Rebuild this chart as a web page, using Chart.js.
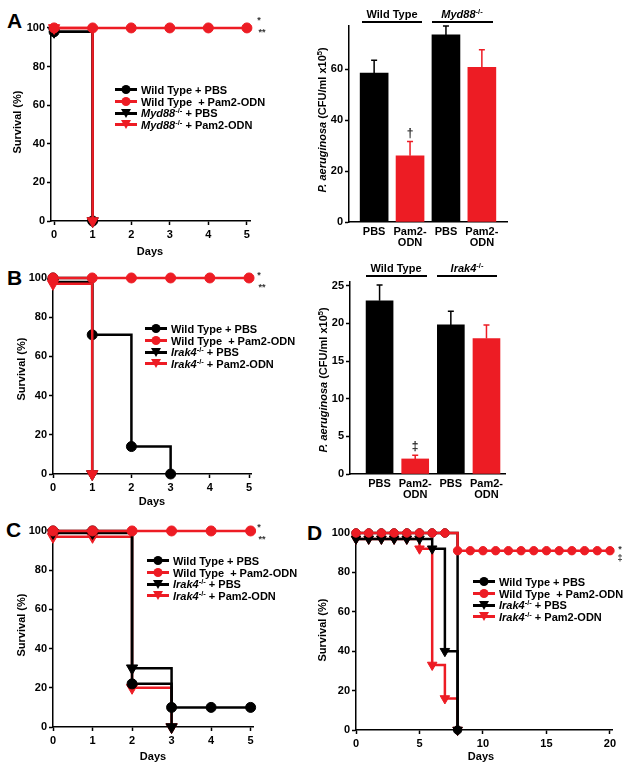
<!DOCTYPE html>
<html>
<head>
<meta charset="utf-8">
<script src="https://cdn.jsdelivr.net/npm/chart.js@4.4.1/dist/chart.umd.min.js"></script>
<style>
body{margin:0;background:#fff;font-family:Arial,"Liberation Sans",sans-serif;font-weight:bold;color:#000}
#fig{position:relative;width:630px;height:768px;overflow:hidden}
.box{position:absolute}
.c{position:absolute;transform:translate(-50%,-50%);white-space:nowrap;font-size:11px;line-height:1}
.vt{position:absolute;transform:translate(-50%,-50%) rotate(-90deg);white-space:nowrap;font-size:11px;line-height:1}
.letter{position:absolute;font-size:21px;line-height:1}
.star{position:absolute;transform:translate(-50%,-50%);font-size:9px;line-height:1;color:#333}
.leg{position:absolute;font-size:11px}
.leg div{display:flex;align-items:center;height:11.7px;white-space:nowrap}
.leg svg{margin-right:4px;flex:none}
.grpline{position:absolute;height:0;border-top:2px solid #000}
sup{font-size:7.5px;vertical-align:0;position:relative;top:-4px;line-height:0}
</style>
</head>
<body>
<div id="fig">
  <!-- パネル文字 -->
  <div class="letter" style="left:7px;top:10px">A</div>
  <div class="letter" style="left:7px;top:267px">B</div>
  <div class="letter" style="left:6px;top:519px">C</div>
  <div class="letter" style="left:307px;top:522px">D</div>

  <!-- グラフ本体 -->
  <div class="box" style="left:11px;top:16px"><canvas id="a1" width="249" height="229"></canvas></div>
  <div class="box" style="left:309px;top:16px"><canvas id="a2" width="203" height="236"></canvas></div>
  <div class="box" style="left:13px;top:266px"><canvas id="b1" width="248" height="232"></canvas></div>
  <div class="box" style="left:310px;top:272px"><canvas id="b2" width="200" height="232"></canvas></div>
  <div class="box" style="left:13px;top:519px"><canvas id="c1" width="250" height="232"></canvas></div>
  <div class="box" style="left:316px;top:521px"><canvas id="d1" width="306" height="233"></canvas></div>

  <!-- 軸タイトル -->
  <div class="vt" style="left:17px;top:122px">Survival (%)</div>
  <div class="c" style="left:150px;top:251px">Days</div>
  <div class="vt" style="left:21px;top:369px">Survival (%)</div>
  <div class="c" style="left:152px;top:501px">Days</div>
  <div class="vt" style="left:21px;top:625px">Survival (%)</div>
  <div class="c" style="left:153px;top:756px">Days</div>
  <div class="vt" style="left:322px;top:630px">Survival (%)</div>
  <div class="c" style="left:481px;top:756px">Days</div>
  <div class="vt" style="left:322px;top:120px"><i>P. aeruginosa</i> (CFU/ml x10<sup>5</sup>)</div>
  <div class="vt" style="left:323px;top:380px"><i>P. aeruginosa</i> (CFU/ml x10<sup>5</sup>)</div>

  <!-- 群ラベル -->
  <div class="c" style="left:392px;top:14px">Wild Type</div>
  <div class="grpline" style="left:362px;top:21px;width:60px"></div>
  <div class="c" style="left:462px;top:14px"><i>Myd88</i><sup>-/-</sup></div>
  <div class="grpline" style="left:432px;top:21px;width:61px"></div>
  <div class="c" style="left:396px;top:268px">Wild Type</div>
  <div class="grpline" style="left:366px;top:275px;width:61px"></div>
  <div class="c" style="left:467px;top:268px"><i>Irak4</i><sup>-/-</sup></div>
  <div class="grpline" style="left:437px;top:275px;width:60px"></div>

  <!-- 有意差マーク -->
  <div class="star" style="left:259px;top:20px">*</div>
  <div class="star" style="left:262px;top:32px">**</div>
  <div class="star" style="left:259px;top:275px">*</div>
  <div class="star" style="left:262px;top:287px">**</div>
  <div class="star" style="left:259px;top:527px">*</div>
  <div class="star" style="left:262px;top:539px">**</div>
  <div class="star" style="left:620px;top:549px">*</div>
  <div class="star" style="left:620px;top:558px">&Dagger;</div>

  <!-- 凡例 -->
  <div class="leg" id="legA" style="left:115px;top:84px"></div>
  <div class="leg" id="legB" style="left:145px;top:323px"></div>
  <div class="leg" id="legC" style="left:147px;top:555px"></div>
  <div class="leg" id="legD" style="left:473px;top:576px"></div>
</div>

<script>
const RED = '#ed1c24';
const BLACK = '#000000';

// ---- A 生存曲線 ----
const aWtPbsDays = [0, 1];
const aWtPbsSurv = [98, 0];
const aWtPamDays = [0, 1, 2, 3, 4, 5];
const aWtPamSurv = [100, 100, 100, 100, 100, 100];
const aKoPbsDays = [0, 1];
const aKoPbsSurv = [98, 0];
const aKoPamDays = [0, 1];
const aKoPamSurv = [100, 0];

// ---- A 菌量 ----
const aBarCats = ['PBS', 'Pam2-ODN', 'PBS', 'Pam2-ODN'];
const aBarVals = [58.5, 26, 73.5, 60.8];
const aBarSem = [5, 5.6, 3.5, 6.9];

// ---- B 生存曲線 ----
const bWtPbsDays = [0, 1, 2, 3];
const bWtPbsSurv = [100, 71, 14, 0];
const bWtPamDays = [0, 1, 2, 3, 4, 5];
const bWtPamSurv = [100, 100, 100, 100, 100, 100];
const bKoPbsDays = [0, 1];
const bKoPbsSurv = [98, 0];
const bKoPamDays = [0, 1];
const bKoPamSurv = [97, 0];

// ---- B 菌量 ----
const bBarCats = ['PBS', 'Pam2-ODN', 'PBS', 'Pam2-ODN'];
const bBarVals = [23, 2, 19.8, 18];
const bBarSem = [2.1, 0.5, 1.8, 1.8];

// ---- C 生存曲線 ----
const cWtPbsDays = [0, 1, 2, 3, 4, 5];
const cWtPbsSurv = [100, 100, 22, 10, 10, 10];
const cWtPamDays = [0, 1, 2, 3, 4, 5];
const cWtPamSurv = [100, 100, 100, 100, 100, 100];
const cKoPbsDays = [0, 1, 2, 3];
const cKoPbsSurv = [99, 99, 30, 0];
const cKoPamDays = [0, 1, 2, 3];
const cKoPamSurv = [97, 97, 20, 0];

// ---- D 生存曲線 ----
const dWtPbsDays = [0, 1, 2, 3, 4, 5, 6, 7, 8];
const dWtPbsSurv = [100, 100, 100, 100, 100, 100, 100, 100, 0];
const dWtPamDays = [0, 1, 2, 3, 4, 5, 6, 7, 8, 9, 10, 11, 12, 13, 14, 15, 16, 17, 18, 19, 20];
const dWtPamSurv = [100, 100, 100, 100, 100, 100, 100, 100, 91, 91, 91, 91, 91, 91, 91, 91, 91, 91, 91, 91, 91];
const dKoPbsDays = [0, 1, 2, 3, 4, 5, 6, 7, 8];
const dKoPbsSurv = [97, 97, 97, 97, 97, 97, 92, 40, 0];
const dKoPamDays = [0, 1, 2, 3, 4, 5, 6, 7, 8];
const dKoPamSurv = [97, 97, 97, 97, 97, 92, 33, 16, 0];

// 目盛り
const survYTicks = [0, 20, 40, 60, 80, 100];
const dayTicks5 = [0, 1, 2, 3, 4, 5];
const dayTicks20 = [0, 5, 10, 15, 20];
const aBarYTicks = [0, 20, 40, 60];
const bBarYTicks = [0, 5, 10, 15, 20, 25];
const barXTicks = [0, 1, 2, 3];

const FONT = { family: 'Arial, "Liberation Sans", sans-serif', size: 11, weight: 'bold' };

function survSet(days, surv, color, tri, order, r) {
  return {
    data: days.map((d, i) => ({ x: d, y: surv[i] })),
    borderColor: color,
    backgroundColor: color,
    pointBorderColor: color,
    pointBackgroundColor: color,
    borderWidth: 2.5,
    stepped: true,
    pointStyle: tri ? 'triangle' : 'circle',
    pointRotation: tri ? 180 : 0,
    pointRadius: tri ? r + 1.5 : r,
    pointBorderWidth: 1,
    clip: false,
    order: order
  };
}

function axisY(ticks, max, w) {
  return {
    min: 0, max: max,
    afterBuildTicks: s => { s.ticks = ticks.map(v => ({ value: v })); },
    afterFit: s => { s.width = w; s.paddingTop = 0; s.paddingBottom = 0; },
    grid: { drawOnChartArea: false, color: BLACK, tickLength: 4, tickWidth: 1.5 },
    border: { color: BLACK, width: 1.5 },
    ticks: { color: BLACK, font: FONT, padding: 2 }
  };
}

function survChart(id, sets, xMin, xMax, xTicks) {
  return new Chart(document.getElementById(id), {
    type: 'line',
    data: { datasets: sets },
    options: {
      responsive: false,
      animation: false,
      layout: { padding: { top: 10, right: 10, left: 0, bottom: 0 } },
      plugins: { legend: { display: false }, tooltip: { enabled: false } },
      scales: {
        x: {
          type: 'linear', min: xMin, max: xMax,
          afterBuildTicks: s => { s.ticks = xTicks.map(v => ({ value: v })); },
          afterFit: s => { s.height = 24; s.paddingLeft = 0; s.paddingRight = 0; },
          grid: { drawOnChartArea: false, color: BLACK, tickLength: 4, tickWidth: 1.5 },
          border: { color: BLACK, width: 1.5 },
          ticks: { color: BLACK, font: FONT, padding: 3, maxRotation: 0, autoSkip: false }
        },
        y: axisY(survYTicks, 101, 40)
      }
    }
  });
}

// エラーバーと記号
const errorBars = {
  id: 'errorBars',
  afterDatasetsDraw(chart, args, opts) {
    const ctx = chart.ctx;
    const x = chart.scales.x, y = chart.scales.y;
    ctx.save();
    opts.vals.forEach((v, i) => {
      const px = x.getPixelForValue(i);
      const top = y.getPixelForValue(v + opts.sem[i]);
      ctx.strokeStyle = opts.colors[i];
      ctx.lineWidth = 1.5;
      ctx.beginPath();
      ctx.moveTo(px, y.getPixelForValue(v));
      ctx.lineTo(px, top);
      ctx.moveTo(px - 3, top);
      ctx.lineTo(px + 3, top);
      ctx.stroke();
    });
    const m = opts.markAt;
    ctx.fillStyle = '#222';
    ctx.font = 'bold 12px Arial, "Liberation Sans", sans-serif';
    ctx.textAlign = 'center';
    ctx.textBaseline = 'bottom';
    ctx.fillText(opts.mark, x.getPixelForValue(m), y.getPixelForValue(opts.vals[m] + opts.sem[m]) - 2);
    ctx.restore();
  }
};

function barChart(id, cats, vals, sem, xMin, xMax, yTicks, yMax, thick, mark) {
  const colors = cats.map(c => c === 'PBS' ? BLACK : RED);
  return new Chart(document.getElementById(id), {
    type: 'bar',
    data: {
      datasets: [{
        data: vals.map((v, i) => ({ x: i, y: v })),
        backgroundColor: colors,
        borderWidth: 0,
        barThickness: thick
      }]
    },
    options: {
      responsive: false,
      animation: false,
      layout: { padding: { top: 10, right: 5, left: 0, bottom: 0 } },
      plugins: {
        legend: { display: false }, tooltip: { enabled: false },
        errorBars: { vals: vals, sem: sem, colors: colors, mark: mark, markAt: 1 }
      },
      scales: {
        x: {
          type: 'linear', min: xMin, max: xMax, offset: false,
          afterBuildTicks: s => { s.ticks = barXTicks.map(v => ({ value: v })); },
          afterFit: s => { s.height = 30; s.paddingLeft = 0; s.paddingRight = 0; },
          grid: { display: true, drawOnChartArea: false, drawTicks: false },
          border: { color: BLACK, width: 1.5 },
          ticks: {
            color: BLACK, font: { ...FONT, lineHeight: 1.0 }, padding: 4, maxRotation: 0, autoSkip: false,
            callback: v => { const c = cats[v]; return c === 'Pam2-ODN' ? ['Pam2-', 'ODN'] : c; }
          }
        },
        y: axisY(yTicks, yMax, 40)
      }
    },
    plugins: [errorBars]
  });
}

survChart('a1', [
  survSet(aWtPamDays, aWtPamSurv, RED, false, 0, 5),
  survSet(aKoPamDays, aKoPamSurv, RED, true, 1, 5),
  survSet(aWtPbsDays, aWtPbsSurv, BLACK, false, 2, 5),
  survSet(aKoPbsDays, aKoPbsSurv, BLACK, true, 3, 5)
], -0.08, 5.08, dayTicks5);

barChart('a2', aBarCats, aBarVals, aBarSem, -0.7, 3.7, aBarYTicks, 77, 28, '\u2020');

survChart('b1', [
  survSet(bWtPamDays, bWtPamSurv, RED, false, 0, 5),
  survSet(bKoPamDays, bKoPamSurv, RED, true, 1, 5),
  survSet(bWtPbsDays, bWtPbsSurv, BLACK, false, 2, 5),
  survSet(bKoPbsDays, bKoPbsSurv, BLACK, true, 3, 5)
], 0, 5.05, dayTicks5);

barChart('b2', bBarCats, bBarVals, bBarSem, -0.83, 3.52, bBarYTicks, 25.5, 27, '\u2021');

survChart('c1', [
  survSet(cWtPamDays, cWtPamSurv, RED, false, 0, 5),
  survSet(cWtPbsDays, cWtPbsSurv, BLACK, false, 1, 5),
  survSet(cKoPbsDays, cKoPbsSurv, BLACK, true, 2, 5),
  survSet(cKoPamDays, cKoPamSurv, RED, true, 3, 5)
], 0, 5.06, dayTicks5);

survChart('d1', [
  survSet(dWtPamDays, dWtPamSurv, RED, false, 0, 4.2),
  survSet(dWtPbsDays, dWtPbsSurv, BLACK, false, 1, 4.2),
  survSet(dKoPbsDays, dKoPbsSurv, BLACK, true, 2, 4),
  survSet(dKoPamDays, dKoPamSurv, RED, true, 3, 4)
], 0, 20.16, dayTicks20);

// 凡例
function sym(color, tri) {
  const mk = tri
    ? '<polygon points="6,1 16,1 11,10" fill="' + color + '"/>'
    : '<circle cx="11" cy="5.5" r="4.5" fill="' + color + '"/>';
  return '<svg width="22" height="11"><line x1="0" y1="5.5" x2="22" y2="5.5" stroke="' + color + '" stroke-width="3"/>' + mk + '</svg>';
}
function legend(id, gene) {
  const rows = [
    [BLACK, false, 'Wild Type + PBS'],
    [RED, false, 'Wild Type&nbsp; + Pam2-ODN'],
    [BLACK, true, '<i>' + gene + '</i><sup>-/-</sup> + PBS'],
    [RED, true, '<i>' + gene + '</i><sup>-/-</sup> + Pam2-ODN']
  ];
  document.getElementById(id).innerHTML = rows.map(r => '<div>' + sym(r[0], r[1]) + '<span>' + r[2] + '</span></div>').join('');
}
legend('legA', 'Myd88');
legend('legB', 'Irak4');
legend('legC', 'Irak4');
legend('legD', 'Irak4');
</script>
</body>
</html>
